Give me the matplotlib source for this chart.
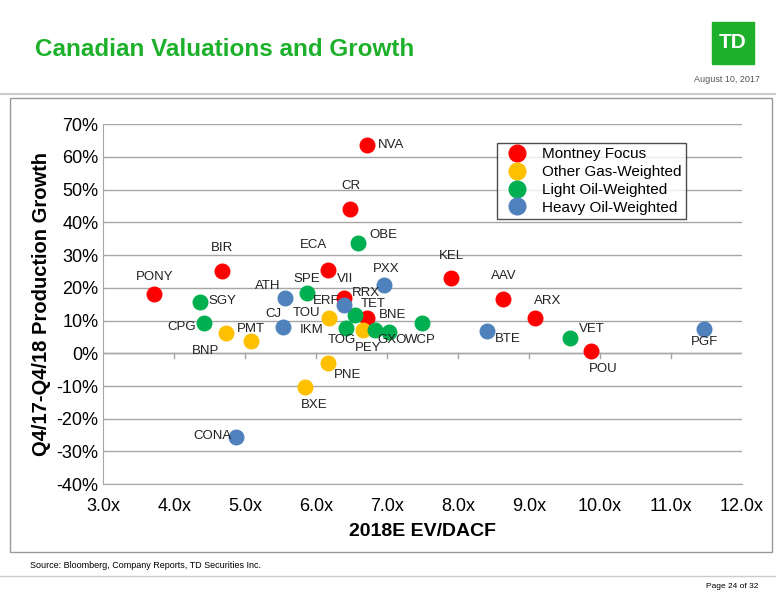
import matplotlib.pyplot as plt
from matplotlib.patches import Rectangle
from matplotlib.lines import Line2D

# data: ticker, EV/DACF, growth (%)
montney = [("NVA", 6.72, 63.6), ("CR", 6.48, 44.0), ("ECA", 6.17, 25.4), ("BIR", 4.68, 25.0),
           ("KEL", 7.90, 22.9), ("AAV", 8.63, 16.5), ("PONY", 3.72, 18.0), ("VII", 6.39, 17.0),
           ("BNE", 6.72, 10.7), ("ARX", 9.08, 10.7), ("POU", 9.87, 0.6)]
gas = [("PMT", 4.73, 6.1), ("BNP", 5.08, 3.7), ("TOU", 6.18, 10.7), ("TOG", 6.66, 7.0),
       ("PNE", 6.17, -3.1), ("BXE", 5.85, -10.4)]
light_oil = [("OBE", 6.59, 33.6), ("SPE", 5.87, 18.3), ("TET", 6.55, 11.6), ("SGY", 4.37, 15.6),
             ("CPG", 4.42, 9.2), ("IKM", 6.42, 7.6), ("PEY", 6.83, 7.0), ("GXO", 7.03, 6.4),
             ("WCP", 7.49, 9.2), ("VET", 9.58, 4.6)]
heavy_oil = [("PXX", 6.96, 21.0), ("ATH", 5.56, 16.8), ("ERF", 6.39, 14.7), ("CJ", 5.54, 8.0),
             ("BTE", 8.41, 6.7), ("PGF", 11.46, 7.3), ("CONA", 4.87, -25.7)]

# label offsets in pixels (dx, dy) from the dot
offsets = {"NVA": (24, 0), "CR": (1, 23), "OBE": (25, 8), "ECA": (-15, 25), "BIR": (0, 23),
           "PXX": (2, 16), "KEL": (1, 22), "AAV": (1, 23), "PONY": (0, 17), "VII": (1, 19),
           "BNE": (25, 3), "ARX": (13, 17), "POU": (12, -18), "PMT": (25, 4), "BNP": (-45, -10),
           "TOU": (-22, 5), "TOG": (-21, -10), "PNE": (19, -12), "BXE": (9, -18),
           "SPE": (0, 14), "TET": (18, 11), "SGY": (22, 1), "CPG": (-22, -4), "IKM": (-34, -2),
           "PEY": (-7, -18), "GXO": (3, -8), "WCP": (-1, -17), "VET": (22, 9), "ATH": (-17, 12),
           "ERF": (-18, 4), "CJ": (-10, 13), "BTE": (21, -8), "PGF": (1, -13), "CONA": (-23, 1)}

plt.rcParams['font.family'] = ['Liberation Sans', 'DejaVu Sans']
fig = plt.figure(figsize=(7.76, 6), dpi=100)
ax = fig.add_axes([0.133, 0.193, 0.823, 0.6])

groups = [(montney, "#FF0000", "Montney Focus"), (gas, "#FFC000", "Other Gas-Weighted"),
          (light_oil, "#00B050", "Light Oil-Weighted"), (heavy_oil, "#4F81BD", "Heavy Oil-Weighted")]
for pts, col, name in groups:
    ax.scatter([p[1] for p in pts], [p[2] for p in pts], s=110, color=col, label=name, zorder=3)
    for t, x, y in pts:
        dx, dy = offsets.get(t, (0, 15))
        ax.annotate(t, (x, y), xytext=(dx * 0.72, dy * 0.72), textcoords="offset points",
                    ha="center", va="center", fontsize=9.5, color="#222222", zorder=4)
# RRX label sits next to VII
ax.annotate("RRX", (6.39, 17.0), xytext=(22 * 0.72, 5 * 0.72), textcoords="offset points",
            ha="center", va="center", fontsize=9.5, color="#222222")

ax.set_xlim(3, 12)
ax.set_ylim(-40, 70)
ax.set_yticks(range(-40, 71, 10))
ax.set_yticklabels([f"{v}%" for v in range(-40, 71, 10)], fontsize=13)
ax.set_xticks(range(3, 13))
ax.set_xticklabels([f"{v}.0x" for v in range(3, 13)], fontsize=13)
ax.grid(axis="y", color="#A6A6A6", lw=1)
ax.set_axisbelow(True)
ax.tick_params(axis="y", length=0)
ax.tick_params(axis="x", length=0, pad=10)
for s in ["top", "right"]:
    ax.spines[s].set_visible(False)
ax.spines["left"].set_color("#A6A6A6")
ax.spines["bottom"].set_color("#A6A6A6")
ax.axhline(0, color="#A6A6A6", lw=1)
for v in range(4, 12):
    ax.plot([v, v], [0, -1.5], color="#A6A6A6", lw=1)
ax.set_xlabel("2018E EV/DACF", fontsize=14, fontweight="bold", labelpad=6)
ax.set_ylabel("Q4/17-Q4/18 Production Growth", fontsize=14.5, fontweight="bold", labelpad=4)

handles = [Line2D([], [], marker="o", ls="", color=c, markersize=12) for _, c, _ in groups]
leg = ax.legend(handles, [g[2] for g in groups], loc="upper left", bbox_to_anchor=(0.605, 0.97),
                fontsize=11, frameon=True, fancybox=False, edgecolor="#222222",
                handletextpad=0.6, borderpad=0.3, labelspacing=0.25)
leg.get_frame().set_linewidth(1)

# page decoration
fig.text(35 / 776, 1 - 50 / 600, "Canadian Valuations and Growth", color="#1DB12B",
         fontsize=17.5, fontweight="bold", va="center")
fig.patches.append(Rectangle((712 / 776, 1 - 64 / 600), 42 / 776, 42 / 600,
                             transform=fig.transFigure, color="#1DB12B"))
fig.text(733 / 776, 1 - 43 / 600, "TD", color="white", fontsize=15, fontweight="bold",
         ha="center", va="center")
fig.text(760 / 776, 1 - 80 / 600, "August 10, 2017", color="#555555", fontsize=6.5, ha="right", va="center")
fig.add_artist(Line2D([0, 1], [1 - 94 / 600] * 2, color="#CCCCCC", lw=1.5))
fig.patches.append(Rectangle((10 / 776, 1 - 552 / 600), 762 / 776, 454 / 600,
                             transform=fig.transFigure, fill=False, edgecolor="#999999", lw=1))
fig.text(30 / 776, 1 - 565 / 600, "Source: Bloomberg, Company Reports, TD Securities Inc.",
         fontsize=6.5, va="center")
fig.add_artist(Line2D([0, 1], [1 - 576 / 600] * 2, color="#CCCCCC", lw=1))
fig.text(758 / 776, 1 - 587 / 600, "Page 24 of 32", fontsize=6, ha="right", va="center")

fig.savefig("out.png", dpi=100)
